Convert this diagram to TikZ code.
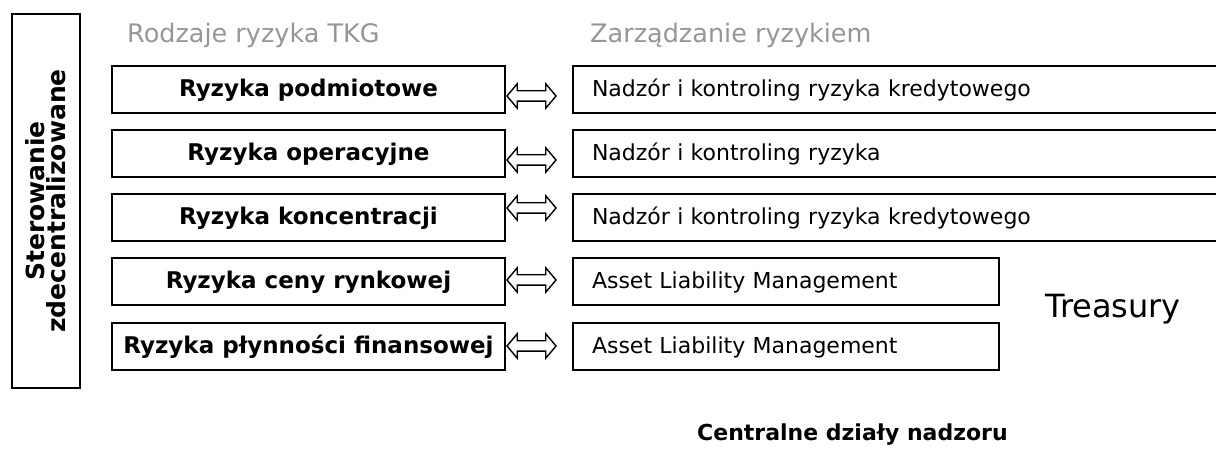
\documentclass[tikz,border=0pt]{standalone}
\usepackage{fontspec}
\setmainfont{DejaVu Sans}
\usetikzlibrary{shapes.arrows,calc}
\definecolor{headgray}{RGB}{150,150,150}
\begin{document}
\begin{tikzpicture}[x=1pt,y=-1pt,
  frame/.style={draw,line width=2pt,outer sep=0pt},
  riskbox/.style={frame,minimum width=393pt,minimum height=47pt,inner sep=0pt,font=\fontsize{23}{27}\selectfont\bfseries},
  mgmtbox/.style={frame,anchor=west,minimum height=47pt,inner xsep=19pt,inner ysep=0pt,align=left,font=\fontsize{22}{26}\selectfont},
  linkarrow/.style={double arrow,draw,line width=1.4pt,minimum height=49pt,minimum width=23pt,inner sep=4.5pt,double arrow head extend=7pt,double arrow tip angle=100},
  header/.style={text=headgray,anchor=base west,inner sep=0pt,font=\fontsize{25.5}{29}\selectfont}]
\useasboundingbox (0,0) rectangle (1216,454);
% Side frame with vertical label
\node[frame,rotate=90,minimum width=374pt,minimum height=68pt,align=center,
  font=\bfseries\fontsize{25}{21}\selectfont] (side) at (45.5,201) {Sterowanie\\zdecentralizowane};

% Column headers
\node[header] (typehead) at (127,43) {Rodzaje ryzyka TKG};
\node[header] (mgmthead) at (590,43) {Zarządzanie ryzykiem};

% Rows: risk type <=> risk management
\foreach \i/\y/\dy/\risk/\mgmt/\tw in {
  1/90/6/Ryzyka podmiotowe/Nadzór i kontroling ryzyka kredytowego/622,
  2/154/6/Ryzyka operacyjne/Nadzór i kontroling ryzyka/622,
  3/218/-10/Ryzyka koncentracji/Nadzór i kontroling ryzyka kredytowego/622,
  4/282/-2/Ryzyka ceny rynkowej/Asset Liability Management/388,
  5/347/-1/Ryzyka płynności finansowej/Asset Liability Management/388} {
  \node[riskbox] (risk\i) at (308.5,\y) {\risk};
  \node[mgmtbox,text width=\tw pt] (mgmt\i) at (573,\y) {\mgmt};
  \node[linkarrow] (link\i) at ($(risk\i.east)+(26.5,\dy)$) {};
}

% Labels on the right and at the bottom
\node[anchor=base west,inner sep=0pt,font=\fontsize{32}{36}\selectfont] (treasury) at (1045,318) {Treasury};
\node[anchor=base west,inner sep=0pt,font=\fontsize{22}{26}\selectfont\bfseries] (central) at (697,440) {Centralne działy nadzoru};
\end{tikzpicture}
\end{document}
